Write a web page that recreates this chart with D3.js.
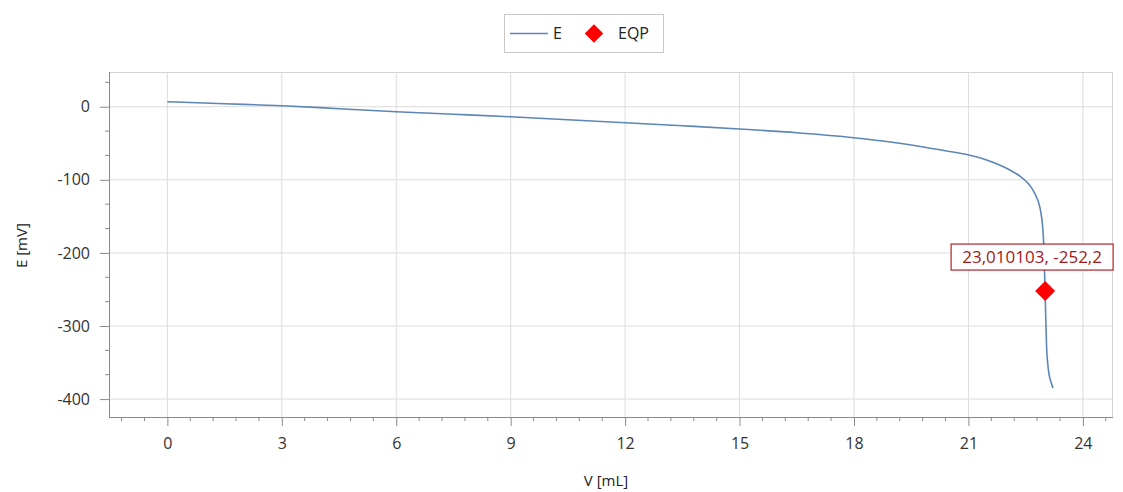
<!DOCTYPE html>
<html>
<head>
<meta charset="utf-8">
<script src="https://cdn.jsdelivr.net/npm/d3@7"></script>
<style>
  body { margin: 0; background: #fff; }
  text { font-family: "Open Sans", "Noto Sans", sans-serif; }
</style>
</head>
<body>
<div id="chart"></div>
<script>
const width = 1123
const height = 492
const margin = {top: 72, right: 10, bottom: 75, left: 109}

// titration curve
const volume = [0, 1.5, 3, 4.5, 6, 7.5, 9, 10.5, 12, 13.5, 15, 16.5, 18, 19, 19.5, 20, 20.5, 21, 21.4, 21.8,
  22.1, 22.35, 22.55, 22.68, 22.78, 22.85, 22.9, 22.94, 22.97, 22.99, 23.01, 23.03, 23.05, 23.08, 23.11, 23.16, 23.22]
const potential = [6.8, 4.1, 1.4, -2.7, -6.8, -10.2, -13.7, -17.8, -21.9, -26.0, -30.4, -35.6, -42.4, -48.5, -52.4, -56.8, -61.2, -66, -71.5, -79.5,
  -87, -95, -104, -113, -123, -133, -145, -161, -184, -214, -252.2, -295, -330, -352, -365, -376, -385]

const eqpVolume = [23.010103]
const eqpPotential = [-252.2]
const eqpLabels = ["23,010103, -252,2"]

const xTicks = [0, 3, 6, 9, 12, 15, 18, 21, 24]
const yTicks = [0, -100, -200, -300, -400]
const seriesNames = ["E", "EQP"]

const innerW = width - margin.left - margin.right
const innerH = height - margin.top - margin.bottom

const svg = d3.select('#chart')
  .append('svg')
  .attr('width', width)
  .attr('height', height)

const x = d3.scaleLinear().domain([-1.53, 24.79]).range([0, innerW])
const y = d3.scaleLinear().domain([47.5, -424.5]).range([0, innerH])

const g = svg.append('g').attr('transform', `translate(${margin.left},${margin.top})`)

// grid
g.selectAll('.vgrid').data(xTicks).enter().append('line')
  .attr('x1', d => x(d)).attr('x2', d => x(d))
  .attr('y1', 0).attr('y2', innerH)
  .attr('stroke', '#dcdcdc')
g.selectAll('.hgrid').data(yTicks).enter().append('line')
  .attr('x1', 0).attr('x2', innerW)
  .attr('y1', d => y(d)).attr('y2', d => y(d))
  .attr('stroke', '#dcdcdc')

// top / right frame
g.append('line').attr('x1', 0).attr('x2', innerW).attr('y1', 0.5).attr('y2', 0.5).attr('stroke', '#d4d4d4')
g.append('line').attr('x1', innerW - 0.5).attr('x2', innerW - 0.5).attr('y1', 0).attr('y2', innerH).attr('stroke', '#d4d4d4')

// axes with minor ticks
const xMinor = d3.range(-1.2, 24.8, 0.6).filter(v => !xTicks.some(t => Math.abs(t - v) < 1e-6))
const yMinor = d3.range(-1300 / 3, 48, 100 / 3).filter(v => !yTicks.some(t => Math.abs(t - v) < 1e-6) && v > -424)
const fmt = d => String(d)

const xAxis = g.append('g').attr('transform', `translate(0,${innerH})`)
  .call(d3.axisBottom(x).tickValues(xTicks).tickSize(9).tickPadding(12).tickFormat(fmt))
xAxis.append('g').selectAll('line').data(xMinor).enter().append('line')
  .attr('x1', d => x(d)).attr('x2', d => x(d)).attr('y1', 0).attr('y2', 4)

const yAxis = g.append('g')
  .call(d3.axisLeft(y).tickValues(yTicks).tickSize(9).tickPadding(10).tickFormat(fmt))
yAxis.append('g').selectAll('line').data(yMinor).enter().append('line')
  .attr('x1', 0).attr('x2', -4).attr('y1', d => y(d)).attr('y2', d => y(d))

svg.selectAll('.domain').attr('stroke', '#8a8a8a').attr('d', function() {
  return d3.select(this.parentNode).attr('transform') ? `M0,0.5H${innerW}` : `M0.5,0V${innerH}`
})
svg.selectAll('.tick line').attr('stroke', '#8a8a8a')
svg.selectAll('g > g > line').attr('stroke', '#8a8a8a')
svg.selectAll('.tick text').attr('fill', '#333').style('font-size', '16px')

// axis titles
svg.append('text')
  .attr('x', margin.left + x(11.5)).attr('y', 486)
  .attr('text-anchor', 'middle').style('font-size', '15px').attr('fill', '#222')
  .text('V [mL]')
svg.append('text')
  .attr('transform', `translate(27,${margin.top + y(-190)}) rotate(-90)`)
  .attr('text-anchor', 'middle').style('font-size', '15px').attr('fill', '#222')
  .text('E [mV]')

// curve
const line = d3.line().x(d => x(d[0])).y(d => y(d[1])).curve(d3.curveMonotoneX)
g.append('path')
  .datum(volume.map((v, i) => [v, potential[i]]))
  .attr('fill', 'none')
  .attr('stroke', '#5b86b6')
  .attr('stroke-width', 1.6)
  .attr('d', line)

// equivalence point
const diamond = d3.symbol().type(d3.symbolSquare).size(200)
g.selectAll('.eqp').data(eqpVolume).enter().append('path')
  .attr('d', diamond)
  .attr('transform', (d, i) => `translate(${x(d)},${y(eqpPotential[i])}) rotate(45)`)
  .attr('fill', '#ff0000')

const lbl = g.selectAll('.eqplbl').data(eqpVolume).enter().append('g')
  .attr('transform', (d, i) => `translate(${x(d)},${y(eqpPotential[i]) - 34})`)
lbl.append('rect')
  .attr('x', -94).attr('y', -13).attr('width', 162).attr('height', 26)
  .attr('fill', '#fff').attr('stroke', '#b22222').attr('stroke-width', 1.2)
lbl.append('text')
  .attr('x', -13).attr('y', 6)
  .attr('text-anchor', 'middle').attr('fill', '#a01a1a').style('font-size', '17px')
  .text((d, i) => eqpLabels[i])

// legend
const legend = svg.append('g').attr('transform', 'translate(504,14)')
legend.append('rect').attr('x', 0.5).attr('y', 0.5).attr('width', 159).attr('height', 38)
  .attr('fill', '#fff').attr('stroke', '#c8c8c8')
legend.append('line').attr('x1', 6).attr('x2', 44).attr('y1', 19.5).attr('y2', 19.5)
  .attr('stroke', '#5b86b6').attr('stroke-width', 1.6)
legend.append('text').attr('x', 49).attr('y', 25).style('font-size', '16px').attr('fill', '#222').text(seriesNames[0])
legend.append('path').attr('d', d3.symbol().type(d3.symbolSquare).size(170))
  .attr('transform', 'translate(90,19.5) rotate(45)').attr('fill', '#ff0000')
legend.append('text').attr('x', 114).attr('y', 25).style('font-size', '16px').attr('fill', '#222').text(seriesNames[1])
</script>
</body>
</html>
